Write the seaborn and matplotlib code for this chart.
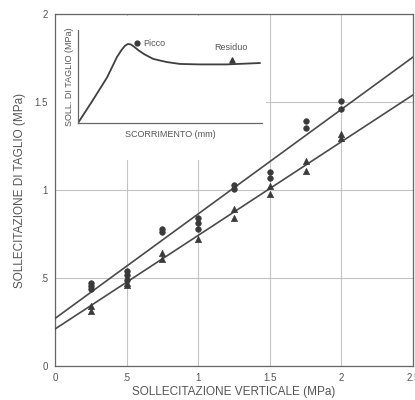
import pandas as pd
import matplotlib
matplotlib.use("Agg")
import matplotlib.pyplot as plt
from matplotlib.patches import Rectangle
import seaborn as sns

# Peak strength points (circles)
picco_x = [0.25, 0.25, 0.25, 0.5, 0.5, 0.5, 0.75, 0.75, 1, 1, 1,
           1.25, 1.25, 1.5, 1.5, 1.75, 1.75, 2, 2]
picco_y = [0.47, 0.455, 0.44, 0.54, 0.515, 0.49, 0.78, 0.76, 0.84, 0.81, 0.78,
           1.03, 1.005, 1.10, 1.07, 1.39, 1.35, 1.505, 1.46]

# Residual strength points (triangles)
residuo_x = [0.25, 0.25, 0.5, 0.5, 0.75, 0.75, 1, 1.25, 1.25, 1.5, 1.5,
             1.75, 1.75, 2, 2]
residuo_y = [0.34, 0.31, 0.47, 0.46, 0.64, 0.61, 0.72, 0.89, 0.84, 1.02, 0.98,
             1.165, 1.11, 1.32, 1.295]

# Failure envelopes (end points)
env_x = [0, 2.5]
env_picco = [0.27, 1.755]
env_residuo = [0.21, 1.54]

# Inset: shear stress vs displacement (arbitrary units)
scorr = [0, 0.82, 1.58, 2.12, 2.35, 2.55, 2.72, 2.87, 3.05, 3.3, 3.6, 4.08,
         4.5, 4.84, 5.54, 6.63, 8.1, 9.9]
tau = [0, 0.25, 0.49, 0.71, 0.78, 0.83, 0.85, 0.845, 0.82, 0.78, 0.74, 0.69,
       0.67, 0.655, 0.635, 0.63, 0.63, 0.645]
picco_pt = (3.2, 0.86)
residuo_pt = (8.4, 0.68)

xticks = [0, 0.5, 1, 1.5, 2, 2.5]
xticklabels = ["0", ".5", "1", "1.5", "2", "2.5"]
yticks = [0, 0.5, 1, 1.5, 2]
yticklabels = ["0", ".5", "1", "1.5", "2"]

sns.set_style("white")
plt.rcParams["font.family"] = ["Liberation Sans", "DejaVu Sans"]
txt = "#555555"
ink = "#3a3a3a"

fig = plt.figure(figsize=(4.15, 4.0), dpi=100)
ax = fig.add_axes([0.1325, 0.085, 0.8625, 0.88])

pk = pd.DataFrame({"x": picco_x, "y": picco_y})
rs = pd.DataFrame({"x": residuo_x, "y": residuo_y})
env = pd.DataFrame({"x": env_x, "picco": env_picco, "residuo": env_residuo})

sns.lineplot(data=env, x="x", y="picco", ax=ax, color="#4a4a4a", lw=1.2, zorder=3)
sns.lineplot(data=env, x="x", y="residuo", ax=ax, color="#4a4a4a", lw=1.2, zorder=3)
sns.scatterplot(data=pk, x="x", y="y", ax=ax, marker="o", s=16, color=ink,
                edgecolor=ink, linewidth=0.5, zorder=4)
sns.scatterplot(data=rs, x="x", y="y", ax=ax, marker="^", s=20, color=ink,
                edgecolor=ink, linewidth=0.5, zorder=4)

ax.set_xlim(0, 2.5)
ax.set_ylim(0, 2)
ax.set_xticks(xticks)
ax.set_xticklabels(xticklabels)
ax.set_yticks(yticks)
ax.set_yticklabels(yticklabels)
ax.tick_params(direction="out", length=3, width=0.8, colors=txt, labelsize=7, pad=2)
ax.grid(True, color="#c4c4c4", lw=0.8, zorder=0)
ax.set_axisbelow(True)
for s in ax.spines.values():
    s.set_color("#666666")
    s.set_linewidth(0.9)
ax.set_xlabel("SOLLECITAZIONE VERTICALE (MPa)", fontsize=8.5, color=txt, labelpad=2)
ax.set_ylabel("SOLLECITAZIONE DI TAGLIO (MPa)", fontsize=8.5, color=txt, labelpad=6)

# white area behind the inset
ax.add_patch(Rectangle((0.003, 0.585), 0.586, 0.409, transform=ax.transAxes,
                       facecolor="white", edgecolor="none", zorder=1))

# inset
ins = fig.add_axes([0.188, 0.6925, 0.443, 0.2325])
ins.patch.set_alpha(0)
cv = pd.DataFrame({"s": scorr, "t": tau})
sns.lineplot(data=cv, x="s", y="t", ax=ins, color="#3f3f3f", lw=1.3)
ins.scatter([picco_pt[0]], [picco_pt[1]], marker="o", s=12, color=ink)
ins.scatter([residuo_pt[0]], [residuo_pt[1]], marker="^", s=14, color=ink)
ins.text(picco_pt[0] + 0.35, picco_pt[1], "Picco", fontsize=6.5, color=txt, va="center")
ins.text(residuo_pt[0] - 0.1, residuo_pt[1] + 0.13, "Residuo", fontsize=6.5, color=txt,
         va="center", ha="center")
ins.set_xlim(0, 10)
ins.set_ylim(0, 1)
ins.set_xticks([])
ins.set_yticks([])
ins.spines["top"].set_visible(False)
ins.spines["right"].set_visible(False)
for s in ["left", "bottom"]:
    ins.spines[s].set_color("#666666")
    ins.spines[s].set_linewidth(0.9)
ins.set_xlabel("SCORRIMENTO (mm)", fontsize=6.5, color=txt, labelpad=5)
ins.set_ylabel("SOLL. DI TAGLIO (MPa)", fontsize=6.5, color=txt, labelpad=3)

fig.savefig("out.png", dpi=100)
plt.close(fig)
